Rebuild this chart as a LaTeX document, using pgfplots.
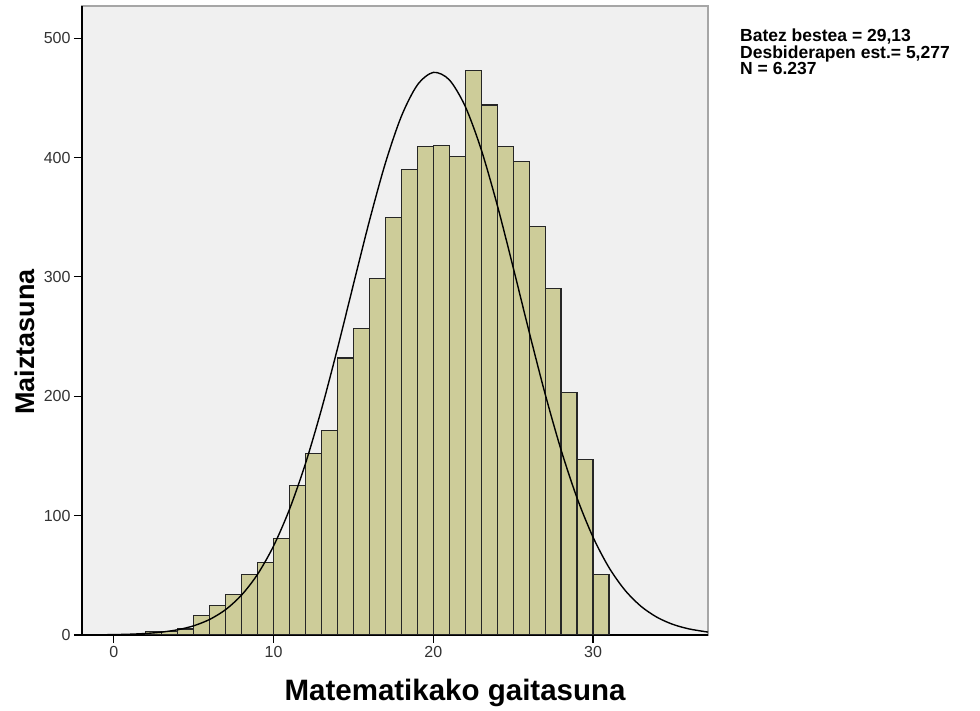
\documentclass[border=0pt]{standalone}
\usepackage{pgfplots}
\pgfplotsset{compat=1.18}
\usepackage{fontspec}
\setmainfont{Liberation Sans}
\definecolor{barfill}{RGB}{205,204,153}
\definecolor{plotbg}{RGB}{240,240,240}
\begin{document}
\begin{tikzpicture}
\useasboundingbox[fill=white] (-82pt,-76pt) rectangle (898pt,635pt);
\begin{axis}[
  at={(0pt,0pt)}, anchor=south west,
  scale only axis, width=626pt, height=629pt,
  xmin=-2, xmax=37.2, ymin=0, ymax=527,
  axis lines*=left,
  axis line style={black, line width=1.3pt},
  axis background/.style={fill=plotbg, draw=gray!70, line width=1.3pt},
  tick align=outside,
  major tick length=8pt,
  tick style={black, line width=1.1pt},
  xtick={0,10,20,30},
  ytick={0,100,200,300,400,500},
  /pgf/number format/assume math mode=true,
  ticklabel style={font=\fontsize{16}{16}\selectfont, text=black!80},
  xlabel={Matematikako gaitasuna},
  ylabel={Maiztasuna},
  xlabel style={at={(axis description cs:0.596,-0.092)}, anchor=center, font=\bfseries\fontsize{29.5}{29.5}\selectfont},
  ylabel style={at={(axis description cs:-0.091,0.466)}, anchor=center, font=\bfseries\fontsize{27}{27}\selectfont},
]
\addplot[ybar interval, fill=barfill, draw=black!85, line width=1.2pt] coordinates {
(2,3)(3,3)(4,5)(5,16)(6,25)(7,34)(8,51)(9,61)(10,81)(11,125)(12,152)(13,171)(14,232)(15,257)(16,299)(17,350)(18,390)(19,409)(20,410)(21,401)(22,473)(23,444)(24,409)(25,397)(26,342)(27,290)(28,203)(29,147)(30,51)(31,51)};
\addplot[smooth, black, line width=1.4pt] coordinates {
(-2,0.07)(-1,0.16)(0,0.33)(1,0.66)(2,1.29)(3,2.43)(4,4.41)(5,7.73)(6,13.08)(7,21.33)(8,33.58)(9,50.98)(10,74.68)(11,105.54)(12,143.89)(13,189.24)(14,240.13)(15,293.92)(16,347.10)(17,395.44)(18,434.62)(19,460.81)(20,471.36)(21,465.13)(22,442.81)(23,406.68)(24,360.32)(25,307.99)(26,253.97)(27,202.04)(28,155.05)(29,114.79)(30,81.99)(31,56.50)(32,37.55)(33,24.08)(34,14.90)(35,8.89)(36,5.12)(37,2.84)(37.2,2.45)};
\end{axis}
\node[anchor=north west, align=left, inner sep=0pt, font=\bfseries\fontsize{17.5}{16.5}\selectfont] at (658pt,606pt) {Batez bestea = 29,13\\Desbiderapen est.= 5,277\\N = 6.237};
\end{tikzpicture}
\end{document}
